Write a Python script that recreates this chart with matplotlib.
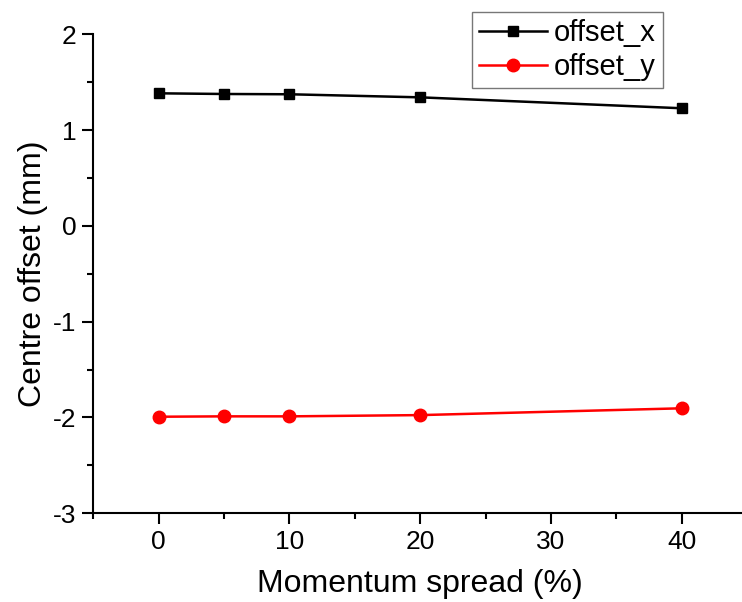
import matplotlib
matplotlib.use("Agg")
import matplotlib.pyplot as plt
from matplotlib.ticker import MultipleLocator, FuncFormatter

plt.rcParams['font.family'] = ['Liberation Sans', 'DejaVu Sans']

momentum_spread = [0, 5, 10, 20, 40]
offset_x = [1.384, 1.377, 1.374, 1.342, 1.228]
offset_y = [-1.992, -1.988, -1.988, -1.975, -1.904]

W, H = 742, 602
fig = plt.figure(figsize=(W / 100, H / 100), dpi=100)
left_px, right_px, top_px, bottom_px = 93.3, 747, 34.3, 513.3
ax = fig.add_axes([left_px / W, 1 - bottom_px / H,
                   (right_px - left_px) / W, (bottom_px - top_px) / H])

ax.plot(momentum_spread, offset_x, color='black', lw=1.8, marker='s', ms=7.5,
        label='offset_x', clip_on=False)
ax.plot(momentum_spread, offset_y, color='red', lw=1.8, marker='o', ms=9,
        label='offset_y', clip_on=False)

ax.set_xlim(-5, 45)
ax.set_ylim(-3, 2)
ax.xaxis.set_major_locator(MultipleLocator(10))
ax.xaxis.set_minor_locator(MultipleLocator(5))
ax.yaxis.set_major_locator(MultipleLocator(1))
ax.yaxis.set_minor_locator(MultipleLocator(0.5))
ax.yaxis.set_major_formatter(FuncFormatter(lambda v, p: f"{v:g}"))

for side in ('top', 'right'):
    ax.spines[side].set_visible(False)
for side in ('left', 'bottom'):
    ax.spines[side].set_linewidth(1.5)

ax.tick_params(which='major', direction='out', length=8, width=1.5, labelsize=19, pad=4)
ax.tick_params(which='minor', direction='out', length=4, width=1.5)

ax.set_xlabel('Momentum spread (%)', fontsize=23, labelpad=11)
ax.set_ylabel('Centre offset (mm)', fontsize=23, labelpad=4)

leg = ax.legend(loc='upper right', bbox_to_anchor=(663 / W, 1 - 12 / H),
                bbox_transform=fig.transFigure, borderaxespad=0, fontsize=21,
                frameon=True, fancybox=False, handlelength=2.3, borderpad=0.25,
                labelspacing=0.2, handletextpad=0.25)
leg.get_frame().set_edgecolor('#555555')
leg.get_frame().set_linewidth(1.0)

fig.savefig('out.png', dpi=100)
